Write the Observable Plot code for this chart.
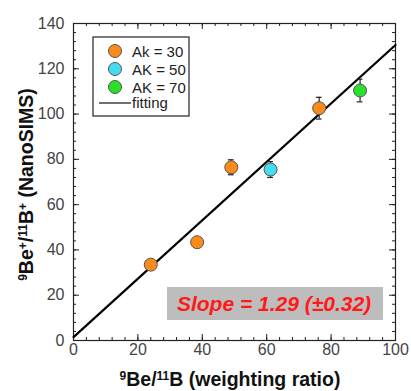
<!DOCTYPE html>
<html><head><meta charset="utf-8">
<script src="https://cdn.jsdelivr.net/npm/d3@7"></script>
<script src="https://cdn.jsdelivr.net/npm/@observablehq/plot@0.6"></script>
<style>body{margin:0;background:#fff;} #chart{position:relative;width:411px;height:391px;}</style>
</head><body><div id="chart"></div>
<script>
// ---- data ----
const groupNames = ["Ak = 30", "AK = 50", "AK = 70"];
const groupColors = ["#f98a1c", "#45dcf2", "#2be02b"];
const pointX = [24.0, 38.4, 49.0, 76.3, 61.2, 89.0];
const pointY = [33.5, 43.4, 76.5, 102.6, 75.5, 110.4];
const pointErr = [0, 0, 3.3, 4.8, 3.5, 5.0];
const pointGroup = [0, 0, 0, 0, 1, 2];
const fitSlope = 1.29;
const fitIntercept = 1.5;
const fitRangeX = [0, 100];
const xMajor = [0, 20, 40, 60, 80, 100];
const yMajor = [0, 20, 40, 60, 80, 100, 120, 140];
const xMinor = d3.range(0, 101, 4);
const yMinor = d3.range(0, 141, 4);
const slopeText = "Slope = 1.29 (±0.32)";

const points = pointX.map((x, i) => ({x, y: pointY[i], err: pointErr[i], g: groupNames[pointGroup[i]]}));
const withErr = points.filter(d => d.err > 0);
const fitLine = fitRangeX.map(x => ({x, y: fitIntercept + fitSlope * x}));

const W = 411, H = 391, mL = 73, mR = 16, mT = 23, mB = 51;
const fw = W - mL - mR, fh = H - mT - mB;

const plot = Plot.plot({
  width: W, height: H,
  marginLeft: mL, marginRight: mR, marginTop: mT, marginBottom: mB,
  x: {domain: [0, 100]},
  y: {domain: [0, 140]},
  color: {domain: groupNames, range: groupColors},
  style: {fontFamily: "'Liberation Sans', Arial, sans-serif", fontSize: "16px", color: "#444", background: "#fff"},
  marks: [
    Plot.axisX({ticks: xMajor, tickSize: 0, tickPadding: 3, label: null, tickFormat: d => d}),
    Plot.axisY({ticks: yMajor, tickSize: 0, tickPadding: 9, label: null, tickFormat: d => d}),
    // inward ticks on all four sides
    Plot.ruleX(xMajor, {x: d => d, insetTop: fh - 6, stroke: "#222"}),
    Plot.ruleX(xMinor, {x: d => d, insetTop: fh - 3, stroke: "#222"}),
    Plot.ruleX(xMajor, {x: d => d, insetBottom: fh - 6, stroke: "#222"}),
    Plot.ruleX(xMinor, {x: d => d, insetBottom: fh - 3, stroke: "#222"}),
    Plot.ruleY(yMajor, {y: d => d, insetRight: fw - 6, stroke: "#222"}),
    Plot.ruleY(yMinor, {y: d => d, insetRight: fw - 3, stroke: "#222"}),
    Plot.ruleY(yMajor, {y: d => d, insetLeft: fw - 6, stroke: "#222"}),
    Plot.ruleY(yMinor, {y: d => d, insetLeft: fw - 3, stroke: "#222"}),
    Plot.frame({stroke: "#222", strokeWidth: 1.2}),
    Plot.line(fitLine, {x: "x", y: "y", stroke: "#000", strokeWidth: 2.2}),
    Plot.ruleX(withErr, {x: "x", y1: d => d.y - d.err, y2: d => d.y + d.err, stroke: "#222", strokeWidth: 1.2}),
    Plot.ruleY(withErr, {y: d => d.y - d.err, x1: d => d.x - 0.9, x2: d => d.x + 0.9, stroke: "#222", strokeWidth: 1.2}),
    Plot.ruleY(withErr, {y: d => d.y + d.err, x1: d => d.x - 0.9, x2: d => d.x + 0.9, stroke: "#222", strokeWidth: 1.2}),
    Plot.dot(points, {x: "x", y: "y", fill: "g", r: 6.5, stroke: "#555", strokeWidth: 1})
  ]
});
document.getElementById("chart").appendChild(plot);

const svg = d3.select(plot);
const font = "'Liberation Sans', Arial, sans-serif";

// axis titles with superscripts
function richTitle(sel, parts) {
  parts.forEach(([t, sup]) => {
    const ts = sel.append("tspan").text(t);
    if (sup) ts.attr("font-size", "12px").attr("baseline-shift", "6px");
  });
}
const xt = svg.append("text").attr("x", mL + fw / 2 - 4).attr("y", 386)
  .attr("text-anchor", "middle").attr("font-family", font).attr("font-weight", "bold")
  .attr("font-size", "19.5px").attr("fill", "#111");
richTitle(xt, [["9", true], ["Be/", false], ["11", true], ["B (weighting ratio)", false]]);
const yt = svg.append("text").attr("transform", `translate(33,${mT + fh / 2 + 3}) rotate(-90)`)
  .attr("text-anchor", "middle").attr("font-family", font).attr("font-weight", "bold")
  .attr("font-size", "19.5px").attr("fill", "#111");
richTitle(yt, [["9", true], ["Be", false], ["+", true], ["/", false], ["11", true], ["B", false], ["+", true], [" (NanoSIMS)", false]]);

// legend
const lg = svg.append("g").attr("font-family", font).attr("font-size", "15px").attr("fill", "#222")
  .attr("text-anchor", "start");
lg.append("rect").attr("x", 93).attr("y", 37).attr("width", 96).attr("height", 79)
  .attr("fill", "#fff").attr("stroke", "#222").attr("stroke-width", 1.2);
groupNames.forEach((n, i) => {
  const cy = 51 + i * 18;
  lg.append("circle").attr("cx", 115).attr("cy", cy).attr("r", 6.5)
    .attr("fill", groupColors[i]).attr("stroke", "#555");
  lg.append("text").attr("x", 132).attr("y", cy + 5.5).text(n);
});
lg.append("line").attr("x1", 99).attr("x2", 131).attr("y1", 103).attr("y2", 103)
  .attr("stroke", "#222").attr("stroke-width", 1.3);
lg.append("text").attr("x", 132).attr("y", 108).text("fitting");

// slope box
svg.append("rect").attr("x", 167).attr("y", 287).attr("width", 216).attr("height", 33).attr("fill", "#bdbdbd");
svg.append("text").attr("x", 274).attr("y", 311).attr("text-anchor", "middle")
  .attr("font-family", font).attr("font-weight", "bold").attr("font-style", "italic")
  .attr("font-size", "21px").attr("fill", "#ff1a1a").text(slopeText);
</script>
</body></html>
